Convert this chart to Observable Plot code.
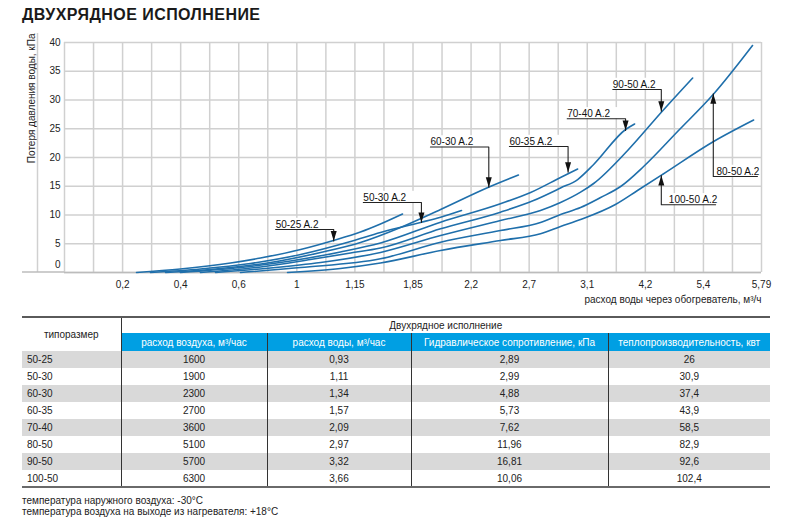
<!DOCTYPE html>
<html><head><meta charset="utf-8">
<script src="https://cdn.jsdelivr.net/npm/d3@7"></script>
<script src="https://cdn.jsdelivr.net/npm/@observablehq/plot@0.6"></script>
<style>
body{margin:0;background:#fff;font-family:"Liberation Sans",Arial,sans-serif;color:#222;}
#wrap{position:relative;width:799px;height:520px;overflow:hidden;background:#fff;}
#title{position:absolute;left:22px;top:7px;font-size:16px;font-weight:bold;line-height:16px;color:#1a1a1a;white-space:nowrap;letter-spacing:0.45px;}
#chart{position:absolute;left:0;top:25px;}
#tbl{position:absolute;left:22px;top:316px;border-collapse:collapse;font-size:10px;table-layout:fixed;width:748px;color:#222;}
#tbl th,#tbl td{padding:0;font-weight:normal;text-align:center;vertical-align:middle;white-space:nowrap;}
#tbl thead tr.h1{height:16px;}
#tbl thead tr.h1 th{border-top:2px solid #5a5a5a;}
#tbl thead tr.h2{height:18px;}
#tbl thead tr.h2 th{background:#009fe3;color:#fff;border-left:1.5px solid #333;}
#tbl th.c1{border-right:1.5px solid #333;}
#tbl tbody tr{height:17px;}
#tbl tbody tr:nth-child(odd){background:#d9d9d9;}
#tbl tbody td{border-left:1.5px solid #333;}
#tbl tbody td.c1{text-align:left;padding-left:5px;border-left:none;}
#tbl tbody tr:last-child td{border-bottom:2px solid #6a6a6a;}
#notes{position:absolute;left:22px;top:495px;font-size:10px;line-height:11px;color:#222;}
</style>
</head><body>
<div id="wrap">
<div id="title">ДВУХРЯДНОЕ ИСПОЛНЕНИЕ</div>
<div id="chart"></div>
<table id="tbl">
<colgroup><col style="width:99px"><col style="width:146px"><col style="width:144px"><col style="width:197px"><col style="width:162px"></colgroup>
<thead>
<tr class="h1"><th rowspan="2" class="c1">типоразмер</th><th colspan="4">Двухрядное исполнение</th></tr>
<tr class="h2" id="hdr"></tr>
</thead>
<tbody id="body"></tbody>
</table>
<div id="notes">температура наружного воздуха: -30°C<br>температура воздуха на выходе из нагревателя: +18°C</div>
</div>
<script>
// ---- chart data (x = position on the axis grid, y = pressure loss, kPa) ----
const xTickLabels = ["0,2","0,4","0,6","1","1,15","1,85","2,2","2,7","3,1","4,2","5,4","5,79"];
const yTicks = [0,5,10,15,20,25,30,35,40];

const s50_25 = [[2.48,0],[3.99,0.61],[5.72,1.65],[6.75,2.52],[8.13,4.0],[9.26,5.57],[10.19,7.04],[10.88,8.43],[11.64,10.17]];
const s50_30 = [[2.96,0],[4.68,0.61],[6.40,1.57],[8.13,3.13],[9.85,5.39],[10.88,6.96],[12.26,8.70],[12.95,9.62],[13.67,10.78]];
const s60_30 = [[3.48,0],[5.37,0.70],[7.09,1.74],[8.82,3.48],[10.19,5.22],[11.57,7.83],[12.95,10.96],[14.60,14.83],[15.63,16.96]];
const s60_35 = [[3.99,0],[6.06,0.87],[7.78,2.0],[9.50,3.57],[10.88,5.13],[12.95,8.75],[15.01,11.95],[16.05,13.91],[17.08,16.52],[17.67,18.0]];
const s70_40 = [[4.68,0],[6.75,0.96],[8.47,2.26],[9.85,3.39],[10.88,4.26],[12.95,7.60],[15.01,10.49],[16.15,12.52],[17.08,14.70],[17.67,16.17],[18.22,18.78],[19.32,24.87],[19.63,25.83]];
const s90_50 = [[5.20,0],[7.09,0.78],[8.82,1.74],[10.88,3.48],[12.95,6.43],[15.01,9.04],[16.39,10.78],[17.08,12.17],[17.77,13.97],[18.22,15.48],[19.39,21.22],[20.59,28.09],[21.63,33.83]];
const s80_50 = [[6.06,0],[8.13,0.87],[10.88,2.38],[12.95,5.27],[15.01,7.30],[16.39,8.70],[17.08,10.09],[17.77,11.30],[18.46,13.04],[19.15,14.96],[19.94,18.43],[21.11,24.52],[22.35,31.04],[23.69,39.48]];
const s100_50 = [[7.68,0],[9.50,0.70],[10.88,1.65],[12.95,3.83],[15.01,5.57],[16.39,6.73],[17.08,8.0],[17.77,9.22],[18.97,11.83],[19.73,14.26],[20.59,17.04],[22.35,22.78],[23.73,26.52]];

const seriesNames = ["50-25","50-30","60-30","60-35","70-40","90-50","80-50","100-50"];
const seriesPts = [s50_25,s50_30,s60_30,s60_35,s70_40,s90_50,s80_50,s100_50];

// annotations
const annLabels = ["50-25 A.2","50-30 A.2","60-30 A.2","60-35 A.2","70-40 A.2","90-50 A.2","80-50 A.2","100-50 A.2"];
const annTextX  = [7.27,10.29,12.60,15.32,17.31,18.88,22.45,20.81];
const annUnderX = [7.27,10.29,12.60,15.32,17.31,18.88,23.86,22.42];
const annLineY  = [7.48,12.17,21.83,21.91,26.73,31.83,16.70,11.77];
const annBendX  = [9.27,12.29,14.61,17.34,19.32,20.55,22.34,20.55];
const annTipY   = [5.5,8.70,14.83,17.44,24.70,28.05,31.08,16.87];

// table data
const sizes = ["50-25","50-30","60-30","60-35","70-40","80-50","90-50","100-50"];
const airFlow = [1600,1900,2300,2700,3600,5100,5700,6300];
const waterFlow = [0.93,1.11,1.34,1.57,2.09,2.97,3.32,3.66];
const resistance = [2.89,2.99,4.88,5.73,7.62,11.96,16.81,10.06];
const power = [26,30.9,37.4,43.9,58.5,82.9,92.6,102.4];
const headers = ["расход воздуха, м³/час","расход воды, м³/час","Гидравлическое сопротивление, кПа","теплопроизводительность, квт"];

// ---- build ----
const curveData = seriesNames.flatMap((n,i) => seriesPts[i].map(([x,y]) => ({name:n,x,y})));
const ann = annLabels.map((label,i) => ({label, tx:annTextX[i], ux:annUnderX[i], ly:annLineY[i], bx:annBendX[i], ty:annTipY[i], up: annTipY[i] > annLineY[i]}));
const annPaths = ann.flatMap(a => [{label:a.label,x:a.ux,y:a.ly},{label:a.label,x:a.bx,y:a.ly},{label:a.label,x:a.bx,y:a.ty}]);
const xTicks = xTickLabels.map((_,i) => 2*(i+1));

const arrowDown = {draw(ctx){ctx.moveTo(0,0);ctx.lineTo(-3,-10);ctx.lineTo(3,-10);ctx.closePath();}};
const arrowUp = {draw(ctx){ctx.moveTo(0,0);ctx.lineTo(-3,10);ctx.lineTo(3,10);ctx.closePath();}};

const gridStyle = {stroke:"#d0d0d0", strokeOpacity:1, strokeWidth:1.5};
const plot = Plot.plot({
  width: 799, height: 290,
  marginLeft: 64, marginRight: 38, marginTop: 17, marginBottom: 43,
  x: {domain:[0,24], axis:null},
  y: {domain:[0,40], axis:null},
  style: {fontFamily:"'Liberation Sans', Arial, sans-serif", fontSize:"10px", color:"#222", background:"transparent"},
  marks: [
    Plot.gridX(d3.range(0,25), gridStyle),
    Plot.gridY(yTicks, gridStyle),
    Plot.ruleY([0], {stroke:"#bcbcbc", strokeWidth:1.5}),
    Plot.axisX(xTicks, {tickSize:0, tickPadding:8, tickFormat: d => xTickLabels[d/2-1], fontSize:10, fill:"#222"}),
    Plot.axisY(yTicks.filter(d => d > 0), {tickSize:0, tickPadding:4, fontSize:10, fill:"#222"}),
    Plot.axisY([0], {tickSize:0, tickPadding:4, fontSize:10, fill:"#222", dy:-8}),
    Plot.rect(ann, {x1: d => Math.min(d.tx, d.ux, d.bx) - 0.08, x2: d => Math.max(d.ux, d.bx) + 0.05, y1: d => d.ly, y2: d => d.ly + 1.95, fill:"white"}),
    Plot.line(curveData, {x:"x", y:"y", z:"name", stroke:"#1f6fab", strokeWidth:1.6, curve:"monotone-x"}),
    Plot.line(annPaths, {x:"x", y:"y", z:"label", stroke:"#222", strokeWidth:1.1}),
    Plot.dot(ann.filter(a => !a.up), {x:"bx", y:"ty", r:3, symbol: arrowDown, fill:"#111", stroke:"none"}),
    Plot.dot(ann.filter(a => a.up), {x:"bx", y:"ty", r:3, symbol: arrowUp, fill:"#111", stroke:"none"}),
    Plot.text(ann, {x:"tx", y:"ly", text:"label", textAnchor:"start", dy:-5, fontSize:10, fill:"#111"}),
    Plot.text(["расход воды через обогреватель, м³/ч"], {frameAnchor:"bottom-right", textAnchor:"end", dy:30, fontSize:10, fill:"#222"}),
    Plot.text(["Потеря давления воды, кПа"], {frameAnchor:"top-left", textAnchor:"end", rotate:-90, dx:-37, dy:-9, fontSize:10, fill:"#222"})
  ]
});
document.getElementById("chart").appendChild(plot);
const svg = d3.select(plot);
svg.append("line").attr("x1",37.5).attr("x2",37.5).attr("y1",8).attr("y2",247).attr("stroke","#d0d0d0").attr("stroke-width",1.5);
svg.append("line").attr("x1",22).attr("x2",64).attr("y1",247).attr("y2",247).attr("stroke","#bcbcbc").attr("stroke-width",1.5);

// table
const hdr = document.getElementById("hdr");
headers.forEach(h => { const th = document.createElement("th"); th.textContent = h; hdr.appendChild(th); });
const fmt = v => String(v).replace(".", ",");
const body = document.getElementById("body");
sizes.forEach((s,i) => {
  const tr = document.createElement("tr");
  [s, airFlow[i], fmt(waterFlow[i]), fmt(resistance[i]), fmt(power[i])].forEach((v,j) => {
    const td = document.createElement("td"); td.textContent = v; if (j === 0) td.className = "c1"; tr.appendChild(td);
  });
  body.appendChild(tr);
});
</script>
</body></html>
